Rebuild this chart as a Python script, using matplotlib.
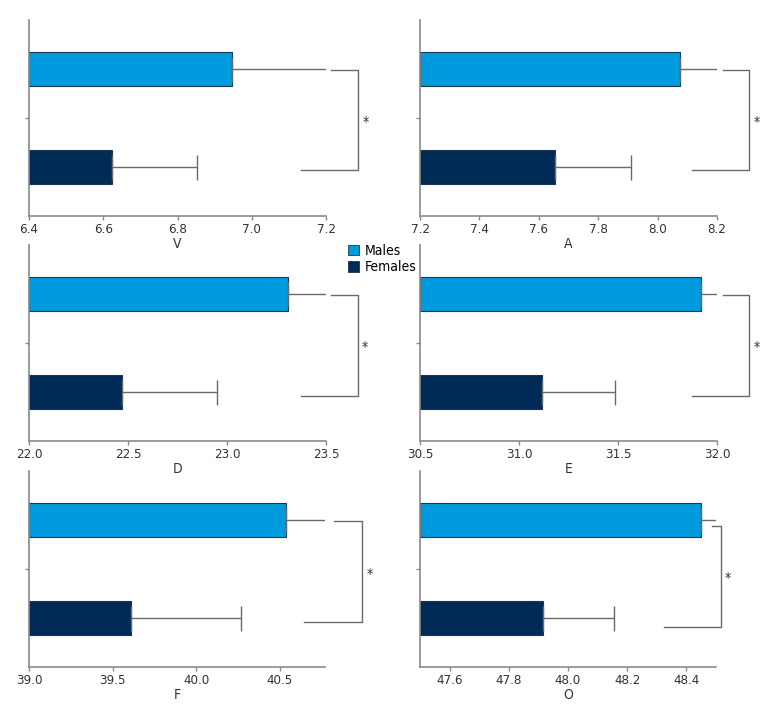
import matplotlib
matplotlib.use("Agg")
import matplotlib.pyplot as plt
import matplotlib.transforms as mtransforms
from matplotlib.patches import Patch
from matplotlib import font_manager

entries = font_manager.fontManager.ttflist
cond_stretch = ("condensed", "semi-condensed", "extra-condensed", "75", "87.5", "62.5")


def wnum(w):
    m = {"ultralight": 200, "light": 300, "normal": 400, "regular": 400, "book": 400,
         "medium": 500, "semibold": 600, "demibold": 600, "bold": 700, "heavy": 800,
         "black": 900}
    try:
        return int(w)
    except (TypeError, ValueError):
        return m.get(str(w).lower(), 400)


cands = [f for f in entries
         if ("Condensed" in f.name or "Narrow" in f.name or str(f.stretch) in cond_stretch)
         and f.style == "normal"]
if cands:
    best = min(cands, key=lambda f: abs(wnum(f.weight) - 400))
    plt.rcParams['font.family'] = [best.name, "DejaVu Sans"]
    plt.rcParams['font.stretch'] = best.stretch
    plt.rcParams['font.weight'] = wnum(best.weight)
    font_w = wnum(best.weight)
else:
    plt.rcParams['font.family'] = ["Roboto", "DejaVu Sans"]
    font_w = 400

# ---------------- data ----------------
labels = ["V", "A", "D", "E", "F", "O"]
male_means = [6.946, 8.074, 23.309, 31.919, 40.536, 48.448]
male_err = [0.28, 0.16, 0.25, 0.12, 0.30, 0.10]
female_means = [6.623, 7.654, 22.470, 31.118, 39.610, 47.914]
female_err = [0.229, 0.256, 0.479, 0.366, 0.655, 0.242]
xlims = [(6.4, 7.2), (7.2, 8.2), (22.0, 23.5), (30.5, 32.0), (39.0, 40.77), (47.5, 48.5)]
xticks = [
    [6.4, 6.6, 6.8, 7.0, 7.2],
    [7.2, 7.4, 7.6, 7.8, 8.0, 8.2],
    [22.0, 22.5, 23.0, 23.5],
    [30.5, 31.0, 31.5, 32.0],
    [39.0, 39.5, 40.0, 40.5],
    [47.6, 47.8, 48.0, 48.2, 48.4],
]
groups = ["Males", "Females"]
signif = ["*", "*", "*", "*", "*", "*"]

# ---------------- style ----------------
male_color = "#009ade"
female_color = "#002b57"
edge_color = "#1d3550"
err_color = "#6a6a6a"
spine_color = "#8a8a8a"
text_color = "#333333"

# bracket layout (x in axes fraction, y in axis units)
br_x = [(0.916, 1.017, 1.108, 1.135), (0.916, 1.019, 1.109, 1.135),
        (0.916, 1.017, 1.107, 1.132), (0.917, 1.019, 1.109, 1.135),
        (0.930, 1.031, 1.124, 1.150), (0.824, 0.9875, 1.017, 1.041)]
br_y = [(0.745, 0.235), (0.745, 0.235), (0.745, 0.232), (0.745, 0.232),
        (0.746, 0.228), (0.72, 0.205)]

W, H = 780, 720
fig = plt.figure(figsize=(W / 100, H / 100), dpi=100)

# panel pixel boxes: left, top, width, height
boxes = [(29, 20, 297, 196), (420, 20, 297, 196),
         (29, 245, 297, 196), (420, 245, 297, 196),
         (29, 471, 296, 196), (420, 471, 296, 196)]

y_male, y_female, bar_h = 0.75, 0.25, 0.17

for i, (l, t, w, h) in enumerate(boxes):
    ax = fig.add_axes([l / W, 1 - (t + h) / H, w / W, h / H])
    ax.patch.set_visible(False)
    ax.barh([y_male], [male_means[i] - xlims[i][0]], left=xlims[i][0], height=bar_h,
            color=male_color, edgecolor=edge_color, linewidth=0.8)
    ax.barh([y_female], [female_means[i] - xlims[i][0]], left=xlims[i][0], height=bar_h,
            color=female_color, edgecolor=edge_color, linewidth=0.8)
    ax.errorbar([male_means[i]], [y_male], xerr=[[0], [male_err[i]]], fmt="none",
                ecolor=err_color, elinewidth=1.0, capsize=9, capthick=1.0)
    ax.errorbar([female_means[i]], [y_female], xerr=[[0], [female_err[i]]], fmt="none",
                ecolor=err_color, elinewidth=1.0, capsize=9, capthick=1.0)
    ax.set_xlim(*xlims[i])
    ax.set_ylim(0, 1)
    ax.set_xticks(xticks[i])
    ax.set_xticklabels([f"{v:.1f}" for v in xticks[i]], fontweight=font_w)
    ax.set_yticks([0.5])
    ax.set_yticklabels([""])
    for s in ["top", "right"]:
        ax.spines[s].set_visible(False)
    for s in ["left", "bottom"]:
        ax.spines[s].set_color(spine_color)
        ax.spines[s].set_linewidth(1.2)
    ax.tick_params(axis="both", colors=spine_color, length=3, width=1.0,
                   labelsize=9.5, labelcolor=text_color, pad=2)
    ax.set_xlabel(labels[i], fontsize=10, color=text_color, labelpad=1,
                  fontweight=font_w)

    tr = mtransforms.blended_transform_factory(ax.transAxes, ax.transData)
    x0, x1, x2, xs = br_x[i]
    yt, yb = br_y[i]
    ax.plot([x1, x2, x2, x0], [yt, yt, yb, yb], color=err_color, lw=1.0,
            transform=tr, clip_on=False)
    ax.text(xs, (yt + yb) / 2 - 0.01, signif[i], transform=tr, ha="center",
            va="center", fontsize=10, color=text_color, fontweight=font_w)

handles = [Patch(facecolor=male_color, edgecolor=edge_color, linewidth=0.6),
           Patch(facecolor=female_color, edgecolor=edge_color, linewidth=0.6)]
fig.legend(handles, groups, loc="upper left", bbox_to_anchor=(348 / W, 1 - 244 / H),
           frameon=False, fontsize=10, handlelength=0.8, handleheight=0.8,
           handletextpad=0.4, labelspacing=0.15, borderpad=0, borderaxespad=0,
           prop={"weight": font_w, "size": 10})

fig.savefig("out.png", dpi=100)
